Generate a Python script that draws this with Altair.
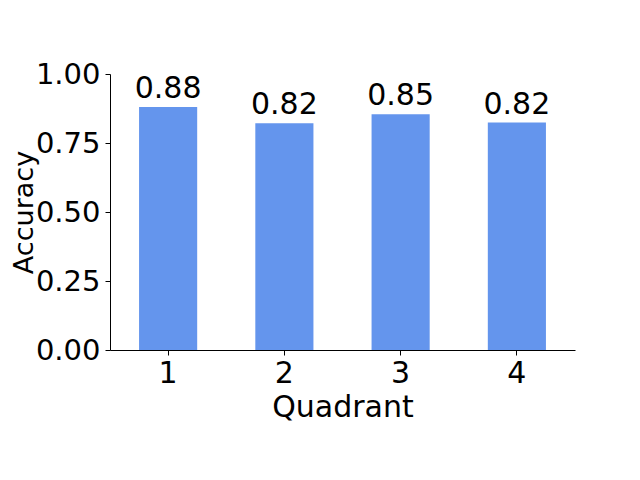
import altair as alt
import pandas as pd

quadrants = ["1", "2", "3", "4"]
accuracy = [0.880, 0.822, 0.854, 0.824]

df = pd.DataFrame({"Quadrant": quadrants, "Accuracy": accuracy})

FONT = "DejaVu Sans"
FS = 30

x = alt.X("Quadrant:N", sort=quadrants,
          scale=alt.Scale(paddingInner=0.5, paddingOuter=0.25),
          axis=alt.Axis(title="Quadrant", labelAngle=0, labelFontSize=FS, titleFontSize=FS,
                        labelFont=FONT, titleFont=FONT, labelColor="black", titleColor="black",
                        tickSize=5, tickColor="black", domainColor="black", labelPadding=3,
                        titlePadding=4, titleFontWeight="normal", grid=False))
y = alt.Y("Accuracy:Q", scale=alt.Scale(domain=[0, 1], nice=False),
          axis=alt.Axis(title="Accuracy", values=[0, 0.25, 0.5, 0.75, 1.0], format=".2f",
                        labelFontSize=29, titleFontSize=27, labelFont=FONT, titleFont=FONT,
                        labelColor="black", titleColor="black", tickSize=5, tickColor="black",
                        domainColor="black", labelPadding=5, titleX=-72,
                        titleFontWeight="normal", grid=False))

bars = alt.Chart(df).mark_bar(color="#6495ED").encode(x=x, y=y)
labels = alt.Chart(df).mark_text(font=FONT, fontSize=FS, baseline="bottom", dy=-3, color="black").encode(
    x=alt.X("Quadrant:N", sort=quadrants), y="Accuracy:Q", text=alt.Text("Accuracy:Q", format=".2f"))

chart = (bars + labels).properties(
    width=465, height=276,
    autosize=alt.AutoSizeParams(type="none"),
    padding={"left": 102, "top": 66, "right": 50, "bottom": 110},
).configure_view(stroke=None)

chart.save("out.html", embed_options={"renderer": "svg", "actions": False})
